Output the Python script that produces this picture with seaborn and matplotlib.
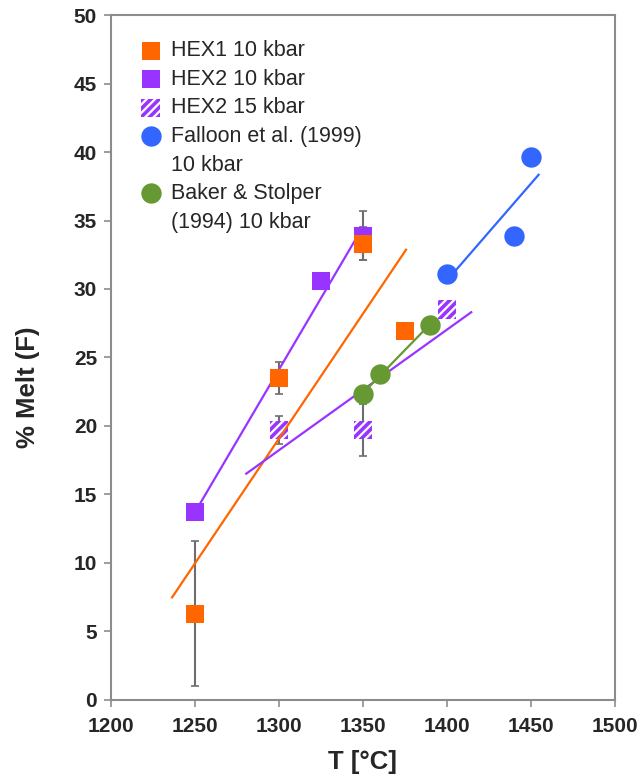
import numpy as np
import pandas as pd
import matplotlib
matplotlib.use("Agg")
import matplotlib.pyplot as plt
from matplotlib.lines import Line2D
import seaborn as sns

# Experimental melt fractions (F, %) versus temperature
hex1_T = [1250, 1300, 1350, 1375]
hex1_F = [6.3, 23.5, 33.3, 26.9]
hex1_err = [5.3, 1.2, 1.2, 0.0]

hex2_10_T = [1250, 1300, 1325, 1350]
hex2_10_F = [13.7, 23.5, 30.6, 33.9]
hex2_10_err = [0.0, 0.0, 0.6, 1.8]

hex2_15_T = [1300, 1350, 1400]
hex2_15_F = [19.7, 19.7, 28.5]
hex2_15_err = [1.0, 1.9, 0.0]

falloon_T = [1400, 1440, 1450]
falloon_F = [31.1, 33.9, 39.6]

baker_T = [1350, 1360, 1390]
baker_F = [22.3, 23.8, 27.4]

# x-extent of each least-squares trend line
fit_range = {
    "hex1": (1236, 1376),
    "hex2_10": (1250, 1350),
    "hex2_15": (1280, 1415),
    "falloon": (1405, 1455),
    "baker": (1350, 1390),
}

C_HEX1 = "#FF6600"
C_HEX2 = "#9933FF"
C_FALL = "#3366FF"
C_BAKER = "#669933"
C_AXIS = "#8C8C8C"
C_ERR = "#6E6E6E"

sns.set_style("ticks")
plt.rcParams["font.family"] = ["Liberation Sans", "DejaVu Sans"]
plt.rcParams["hatch.linewidth"] = 2.6

fig = plt.figure(figsize=(6.4, 7.82), dpi=100)
ax = fig.add_axes([0.1734, 0.1049, 0.7875, 0.8759])

SQ = 175
CI = 215


def trend(x, y, key, color):
    a, b = np.polyfit(x, y, 1)
    xs = np.array(fit_range[key], dtype=float)
    ax.plot(xs, a * xs + b, color=color, lw=1.6, zorder=3, solid_capstyle="butt")


def errbars(x, y, e):
    x = np.asarray(x); y = np.asarray(y); e = np.asarray(e)
    m = e > 0
    ax.errorbar(x[m], y[m], yerr=e[m], fmt="none", ecolor=C_ERR, elinewidth=1.5,
                capsize=3, capthick=1.2, zorder=2)


errbars(hex1_T, hex1_F, hex1_err)
errbars(hex2_10_T, hex2_10_F, hex2_10_err)
errbars(hex2_15_T, hex2_15_F, hex2_15_err)

# hatched 15 kbar squares sit beneath the trend lines
sns.scatterplot(x=hex2_15_T, y=hex2_15_F, ax=ax, marker="s", s=SQ,
                facecolor="white", edgecolor=C_HEX2, linewidth=0,
                hatch="////", zorder=2.5)

trend(hex1_T, hex1_F, "hex1", C_HEX1)
trend(hex2_10_T, hex2_10_F, "hex2_10", C_HEX2)
trend(hex2_15_T, hex2_15_F, "hex2_15", C_HEX2)
trend(falloon_T, falloon_F, "falloon", C_FALL)
trend(baker_T, baker_F, "baker", C_BAKER)

sns.scatterplot(x=hex2_10_T, y=hex2_10_F, ax=ax, marker="s", s=SQ,
                color=C_HEX2, linewidth=0, zorder=4)
sns.scatterplot(x=hex1_T, y=hex1_F, ax=ax, marker="s", s=SQ,
                color=C_HEX1, linewidth=0, zorder=5)
sns.scatterplot(x=falloon_T, y=falloon_F, ax=ax, marker="o", s=CI,
                color=C_FALL, linewidth=0, zorder=5)
sns.scatterplot(x=baker_T, y=baker_F, ax=ax, marker="o", s=CI,
                color=C_BAKER, linewidth=0, zorder=5)

# legend: one row per text line, symbol on the first line of each entry
blank = Line2D([], [], linestyle="none", marker=None)
hdl = [
    ax.scatter([], [], marker="s", s=SQ, color=C_HEX1, linewidth=0),
    ax.scatter([], [], marker="s", s=SQ, color=C_HEX2, linewidth=0),
    ax.scatter([], [], marker="s", s=SQ, facecolor="white",
               edgecolor=C_HEX2, linewidth=0, hatch="////"),
    ax.scatter([], [], marker="o", s=CI, color=C_FALL, linewidth=0),
    blank,
    ax.scatter([], [], marker="o", s=CI, color=C_BAKER, linewidth=0),
    blank,
]
labels = ["HEX1 10 kbar", "HEX2 10 kbar", "HEX2 15 kbar",
          "Falloon et al. (1999)", "10 kbar", "Baker & Stolper",
          "(1994) 10 kbar"]
ax.legend(hdl, labels, loc="upper left", bbox_to_anchor=(0.04, 0.9755),
          frameon=False, fontsize=15.5, handletextpad=0.45,
          labelspacing=0.35, borderaxespad=0, handlelength=1.0)

ax.set_xlim(1200, 1500)
ax.set_ylim(0, 50)
ax.set_xticks(np.arange(1200, 1501, 50))
ax.set_yticks(np.arange(0, 51, 5))
for lab in ax.get_xticklabels() + ax.get_yticklabels():
    lab.set_fontweight("bold")
    lab.set_fontsize(15)
ax.tick_params(axis="both", direction="out", length=5, width=1.2,
               color=C_AXIS, pad=5)
ax.tick_params(axis="x", pad=7)
for sp in ax.spines.values():
    sp.set_color(C_AXIS)
    sp.set_linewidth(1.5)

ax.set_xlabel("T [°C]", fontsize=18.5, fontweight="bold", labelpad=10)
ax.set_ylabel("% Melt (F)", fontsize=18.5, fontweight="bold")
ax.yaxis.set_label_coords(-0.141, 0.457)

fig.savefig("out.png", dpi=100)
